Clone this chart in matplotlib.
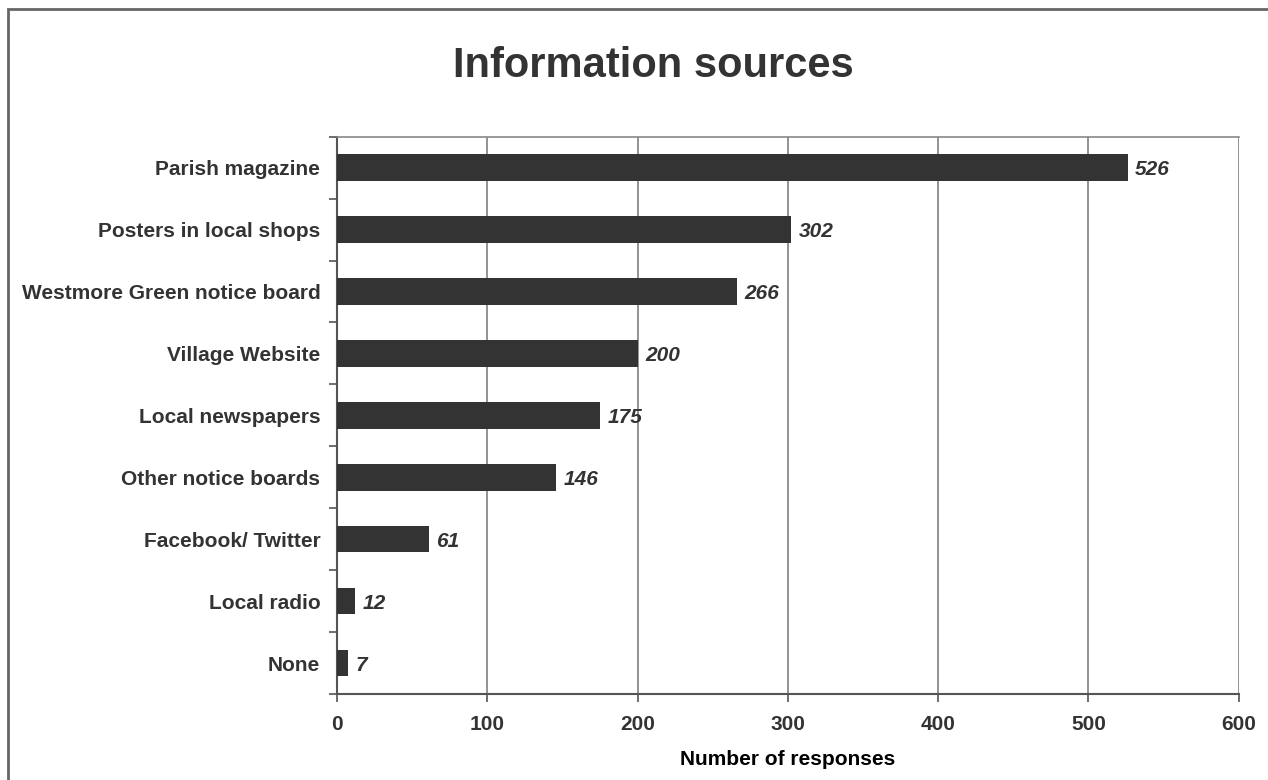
# information sources bar chart

import matplotlib.pyplot as plt
from matplotlib.patches import Rectangle

plt.rcParams['font.family'] = ['Liberation Sans', 'DejaVu Sans']

sources = ["Parish magazine", "Posters in local shops", "Westmore Green notice board",
           "Village Website", "Local newspapers", "Other notice boards",
           "Facebook/ Twitter", "Local radio", "None"]
responses = [526, 302, 266, 200, 175, 146, 61, 12, 7]
xticks = [0, 100, 200, 300, 400, 500, 600]

fig = plt.figure(figsize=(12.68, 7.80), dpi=100)
ax = fig.add_axes([0.2658, 0.1103, 0.9769 - 0.2658, 0.8247 - 0.1103])

pos = list(range(len(sources)))
ax.barh(pos, responses, height=0.43, color="#333333", zorder=3)
ax.set_ylim(len(sources) - 0.5, -0.5)
ax.set_xlim(0, 600)

for p, v in zip(pos, responses):
    ax.text(v + 5, p, str(v), va="center_baseline", ha="left", fontsize=15,
            fontweight="bold", fontstyle="italic", color="#333333")

# category labels between tick marks
ax.set_yticks(pos)
ax.set_yticklabels(sources, fontsize=15, fontweight="bold", color="#333333")
ax.tick_params(axis="y", which="major", length=0, pad=12)
ax.set_yticks([i - 0.5 for i in range(len(sources) + 1)], minor=True)
ax.tick_params(axis="y", which="minor", length=6, width=1.2, color="#555555")

ax.set_xticks(xticks)
ax.set_xticklabels([str(t) for t in xticks], fontsize=15, fontweight="bold", color="#333333")
ax.tick_params(axis="x", length=6, width=1.2, color="#555555", pad=9)
ax.set_xlabel("Number of responses", fontsize=15, fontweight="bold", labelpad=12)

ax.grid(axis="x", color="#808080", linewidth=1.2, zorder=0)
for s in ["left", "bottom"]:
    ax.spines[s].set_color("#555555")
    ax.spines[s].set_linewidth(1.5)
ax.spines["right"].set_visible(False)
ax.spines["top"].set_color("#888888")
ax.spines["top"].set_linewidth(1.2)

fig.text(0.5154, 0.915, "Information sources", ha="center", va="center",
         fontsize=30, fontweight="bold", color="#333333")

# outer chart border (right/bottom fall outside image)
fig.patches.append(Rectangle((8 / 1268, -0.1), 1.2, 1 - 9 / 780 + 0.1,
                             transform=fig.transFigure, fill=False,
                             edgecolor="#666666", linewidth=2))

fig.savefig("out.png", dpi=100)
